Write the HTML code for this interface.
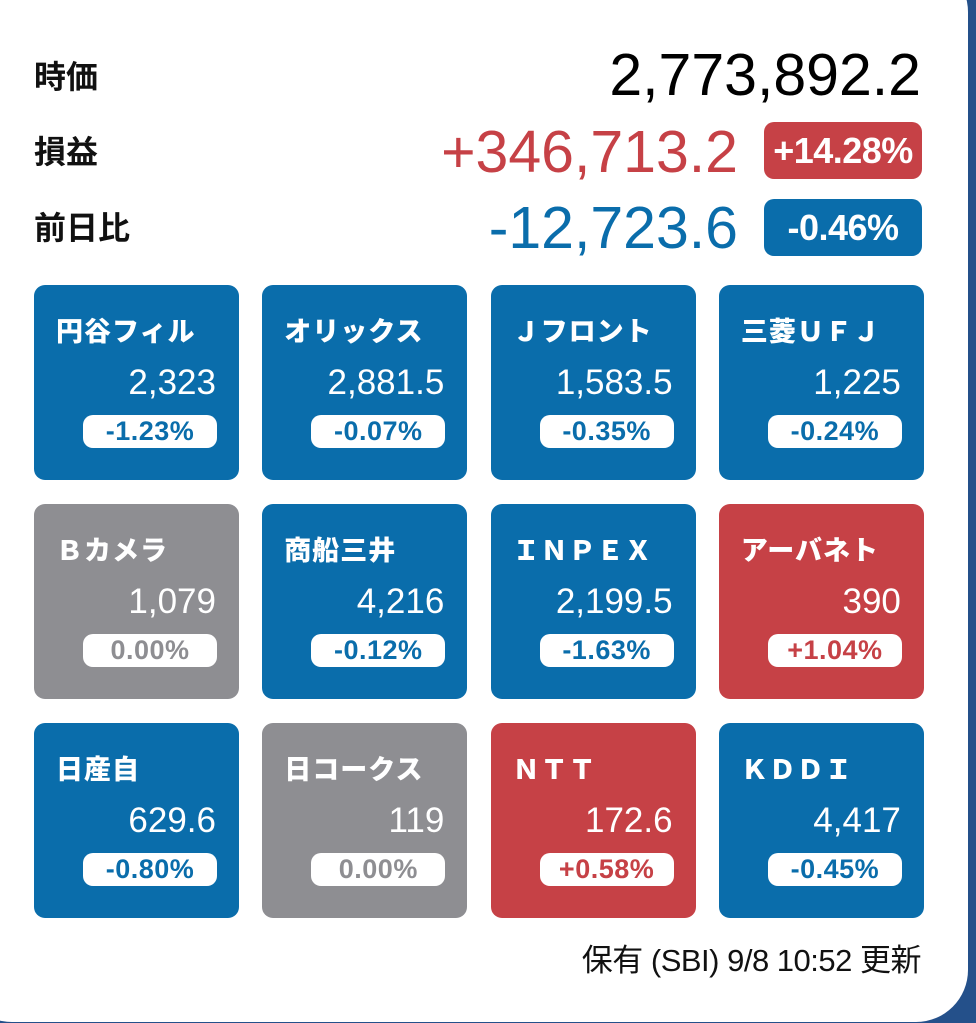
<!DOCTYPE html>
<html><head><meta charset="utf-8">
<style>
html,body{margin:0;padding:0;}
body{width:976px;height:1023px;background:#24508a;position:relative;overflow:hidden;font-family:"Liberation Sans","Noto Sans CJK JP",sans-serif;}
#card{position:absolute;left:-40px;top:-40px;width:1008px;height:1062px;background:#fff;border-radius:52px;}
.lbl{position:absolute;left:34px;font-size:32px;font-weight:bold;color:#111;line-height:1;}
.val{position:absolute;font-size:59px;line-height:1;text-align:right;letter-spacing:0px;}
.bigpill{position:absolute;left:764px;width:158px;height:57px;border-radius:10px;color:#fff;font-weight:bold;font-size:36px;display:flex;align-items:center;justify-content:center;letter-spacing:-0.5px;}
.tile{position:absolute;width:205px;height:195px;border-radius:11px;color:#fff;}
.tile .nm{position:absolute;left:22px;top:34px;font-size:27px;font-weight:900;letter-spacing:1px;line-height:1;}
.tile .pr{position:absolute;right:23px;top:80px;font-size:35px;line-height:1;}
.tile .pc{position:absolute;right:22px;top:130px;width:134px;height:33px;background:#fff;border-radius:10px;font-weight:bold;font-size:27px;display:flex;align-items:center;justify-content:center;letter-spacing:0.5px;}
.b{background:#0a6dab}.b .pc{color:#0a6dab}
.g{background:#8e8e92}.g .pc{color:#8e8e92}
.r{background:#c64146}.r .pc{color:#c64146}
#foot{position:absolute;right:55px;top:945px;font-size:31px;color:#111;line-height:1;letter-spacing:-0.5px;}
</style></head><body>
<div id="card"></div>
<div class="lbl" style="top:61px">時価</div>
<div class="val" style="right:55px;top:46px;color:#000">2,773,892.2</div>
<div class="lbl" style="top:136px">損益</div>
<div class="val" style="right:238px;top:123px;color:#c64146">+346,713.2</div>
<div class="bigpill" style="top:122px;background:#c64146">+14.28%</div>
<div class="lbl" style="top:212px">前日比</div>
<div class="val" style="right:238px;top:199px;color:#0a6dab">-12,723.6</div>
<div class="bigpill" style="top:199px;background:#0a6dab">-0.46%</div>
<div id="tiles"></div>
<div id="foot">保有 (SBI) 9/8 10:52 更新</div>
<script>
const names=["円谷フィル","オリックス","Ｊフロント","三菱ＵＦＪ","Ｂカメラ","商船三井","ＩＮＰＥＸ","アーバネト","日産自","日コークス","ＮＴＴ","ＫＤＤＩ"];
const prices=["2,323","2,881.5","1,583.5","1,225","1,079","4,216","2,199.5","390","629.6","119","172.6","4,417"];
const changes=["-1.23%","-0.07%","-0.35%","-0.24%","0.00%","-0.12%","-1.63%","+1.04%","-0.80%","0.00%","+0.58%","-0.45%"];
const cont=document.getElementById('tiles');
names.forEach((n,i)=>{
  const col=i%4,row=Math.floor(i/4);
  const c=changes[i];
  const cls=c.startsWith('+')?'r':(c.startsWith('-')?'b':'g');
  const t=document.createElement('div');
  t.className='tile '+cls;
  t.style.left=(34+col*228.3)+'px';
  t.style.top=(285+row*219)+'px';
  
  
  const a=document.createElement('div');a.className='nm';a.textContent=n;
  
  
  const p=document.createElement('div');p.className='pr';p.textContent=prices[i];
  
  
  const q=document.createElement('div');q.className='pc';q.textContent=c;
  
  
  t.appendChild(a);t.appendChild(p);t.appendChild(q);cont.appendChild(t);
});
</script>
</body></html>
